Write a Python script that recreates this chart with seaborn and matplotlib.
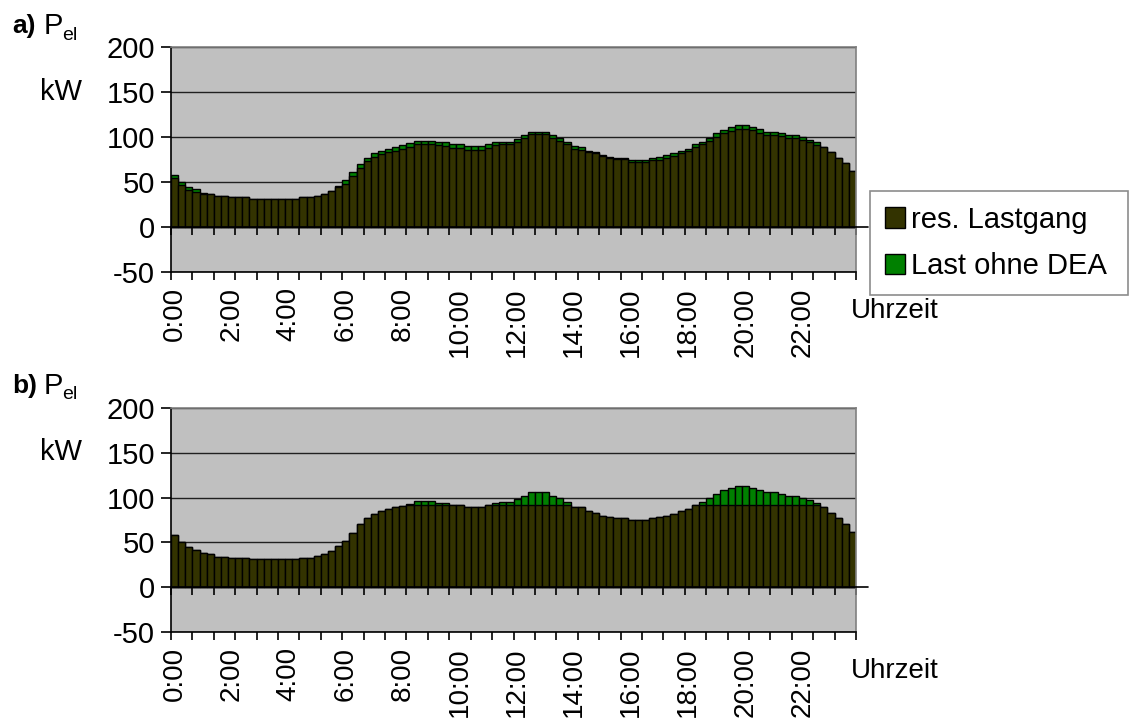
import numpy as np
import pandas as pd
import matplotlib
matplotlib.use('Agg')
import matplotlib.pyplot as plt
import seaborn as sns
from matplotlib.patches import Patch

# 15-min Werte, 96 Viertelstunden
load = [58, 50, 45, 42, 38, 37, 34, 34, 33, 33, 33, 31, 31, 31, 31, 31, 31, 31, 33, 33, 35, 37, 40, 46,
        52, 61, 70, 77, 82, 85, 87, 89, 91, 93, 96, 96, 96, 94, 94, 92, 92, 90, 90, 90, 92, 94, 95, 95,
        98, 102, 106, 106, 106, 102, 99, 95, 90, 89, 85, 83, 80, 78, 77, 77, 75, 75, 75, 77, 78, 80, 82, 85,
        87, 92, 95, 99, 104, 108, 111, 113, 113, 111, 109, 106, 106, 104, 102, 102, 100, 97, 94, 89, 83, 77, 71, 62]

res_a = [54, 47, 41, 39, 37, 37, 34, 34, 33, 33, 33, 31, 31, 31, 31, 31, 31, 31, 33, 33, 35, 37, 40, 45,
         48, 57, 66, 73, 78, 81, 83, 85, 87, 89, 92, 92, 92, 91, 90, 88, 88, 86, 86, 86, 88, 91, 92, 92,
         95, 99, 103, 103, 103, 99, 96, 92, 87, 86, 83, 82, 79, 77, 76, 76, 72, 72, 72, 74, 75, 77, 79, 82,
         84, 89, 92, 96, 100, 104, 107, 109, 109, 108, 105, 102, 102, 101, 99, 99, 97, 94, 91, 89, 83, 77, 71, 62]

res_b = [58, 50, 45, 42, 38, 37, 34, 34, 33, 33, 33, 31, 31, 31, 31, 31, 31, 31, 33, 33, 35, 37, 40, 46,
         52, 61, 70, 77, 82, 85, 87, 89, 91, 92, 92, 92, 92, 92, 92, 92, 92, 90, 90, 90, 92, 92, 92, 92,
         92, 92, 92, 92, 92, 92, 92, 92, 90, 89, 85, 83, 80, 78, 77, 77, 75, 75, 75, 77, 78, 80, 82, 85,
         87, 92, 92, 92, 92, 92, 92, 92, 92, 92, 92, 92, 92, 92, 92, 92, 92, 92, 92, 89, 83, 77, 71, 62]

time_labels = ['0:00', '2:00', '4:00', '6:00', '8:00', '10:00',
               '12:00', '14:00', '16:00', '18:00', '20:00', '22:00']
y_ticks = [-50, 0, 50, 100, 150, 200]

df = pd.DataFrame({'slot': np.arange(len(load)), 'load': load,
                   'res_a': res_a, 'res_b': res_b})

sns.set_style('white')
plt.rcParams['font.family'] = ['Liberation Sans', 'DejaVu Sans']
plt.rcParams['text.color'] = 'black'
plt.rcParams['xtick.color'] = 'black'
plt.rcParams['ytick.color'] = 'black'
plt.rcParams['axes.labelcolor'] = 'black'

C_BG = '#c0c0c0'
C_RES = '#333300'
C_LOAD = '#008000'
FS = 21

W, H = 1130, 723
fig = plt.figure(figsize=(W / 100, H / 100), dpi=100)
ax_a = fig.add_axes([171 / W, 1 - 272 / H, 685 / W, 225 / H])
ax_b = fig.add_axes([171 / W, 1 - 632 / H, 685 / W, 224 / H])


def draw_panel(ax, res_col):
    ax.set_facecolor(C_BG)
    sns.barplot(data=df, x='slot', y='load', color=C_LOAD, saturation=1,
                width=1, edgecolor='black', linewidth=1, ax=ax)
    sns.barplot(data=df, x='slot', y=res_col, color=C_RES, saturation=1,
                width=1, edgecolor='black', linewidth=1, ax=ax)
    n = len(df)
    ax.set_xlim(-0.5, n - 0.5)
    ax.set_ylim(-50, 200)
    ax.set_xlabel('')
    ax.set_ylabel('')
    ax.set_axisbelow(True)
    ax.set_yticks(y_ticks)
    ax.set_yticklabels([str(v) for v in y_ticks], fontsize=FS)
    ax.yaxis.grid(True, color='#202020', linewidth=1)
    ax.xaxis.grid(False)
    ax.tick_params(axis='y', direction='out', length=7.2, width=1.2,
                   pad=4.3, left=True, color='black', labelcolor='black')

    # Ticks alle 3 Viertelstunden, Beschriftung alle 2 Stunden
    edges = np.arange(-0.5, n, 3)
    ax.set_xticks(edges)
    ax.set_xticklabels([''] * len(edges))
    ax.tick_params(axis='x', which='major', direction='out', length=5.8,
                   width=1.2, bottom=True, color='black')
    ax.set_xticks(np.arange(0, n, 8), labels=time_labels, minor=True)
    ax.tick_params(axis='x', which='minor', length=0, pad=11, labelsize=20,
                   labelrotation=90, labelcolor='black')
    for lab in ax.get_xticklabels(minor=True):
        lab.set_va('top')

    for s in ['top', 'right']:
        ax.spines[s].set_color('#808080')
        ax.spines[s].set_linewidth(1.2)
    for s in ['left', 'bottom']:
        ax.spines[s].set_color('black')
        ax.spines[s].set_linewidth(1.2)

    # Kategorieachse bei 0 mit eigenen Teilstrichen
    sec = ax.secondary_xaxis(50 / 250)
    sec.set_xticks(edges)
    sec.tick_params(axis='x', direction='out', length=5.8, width=1.2,
                    labelbottom=False, color='black')
    sec.spines['bottom'].set_color('black')
    sec.spines['bottom'].set_linewidth(1.2)
    ax.axhline(0, xmin=0, xmax=1.018, color='black', linewidth=1.2,
               clip_on=False, zorder=5)


draw_panel(ax_a, 'res_a')
draw_panel(ax_b, 'res_b')

# Achsentitel
for top, tag in [(0, 'a)'), (360, 'b)')]:
    fig.text(12 / W, 1 - (26 + top) / H, tag, fontsize=19, fontweight='bold',
             ha='left', va='center')
    fig.text(44 / W, 1 - (26 + top) / H, 'P', fontsize=FS, ha='left', va='center')
    fig.text(62 / W, 1 - (35 + top) / H, 'el', fontsize=14, ha='left', va='center')
    fig.text(82 / W, 1 - (92 + top) / H, 'kW', fontsize=FS, ha='right', va='center')
    fig.text(851 / W, 1 - (311 + top) / H, 'Uhrzeit', fontsize=20,
             ha='left', va='center')

handles = [Patch(facecolor=C_RES, edgecolor='black', label='res. Lastgang'),
           Patch(facecolor=C_LOAD, edgecolor='black', label='Last ohne DEA')]
leg = fig.legend(handles=handles, loc='center',
                 bbox_to_anchor=(870 / W, 1 - 298 / H, 258 / W, 110 / H),
                 mode='expand', fontsize=FS, frameon=True, fancybox=False,
                 handlelength=0.7, handleheight=0.7, handletextpad=0.2,
                 labelspacing=0.65, borderpad=0.5, borderaxespad=0)
leg.get_frame().set_edgecolor('#707070')
leg.get_frame().set_linewidth(1.2)

fig.savefig('out.png', dpi=100, facecolor='white')
